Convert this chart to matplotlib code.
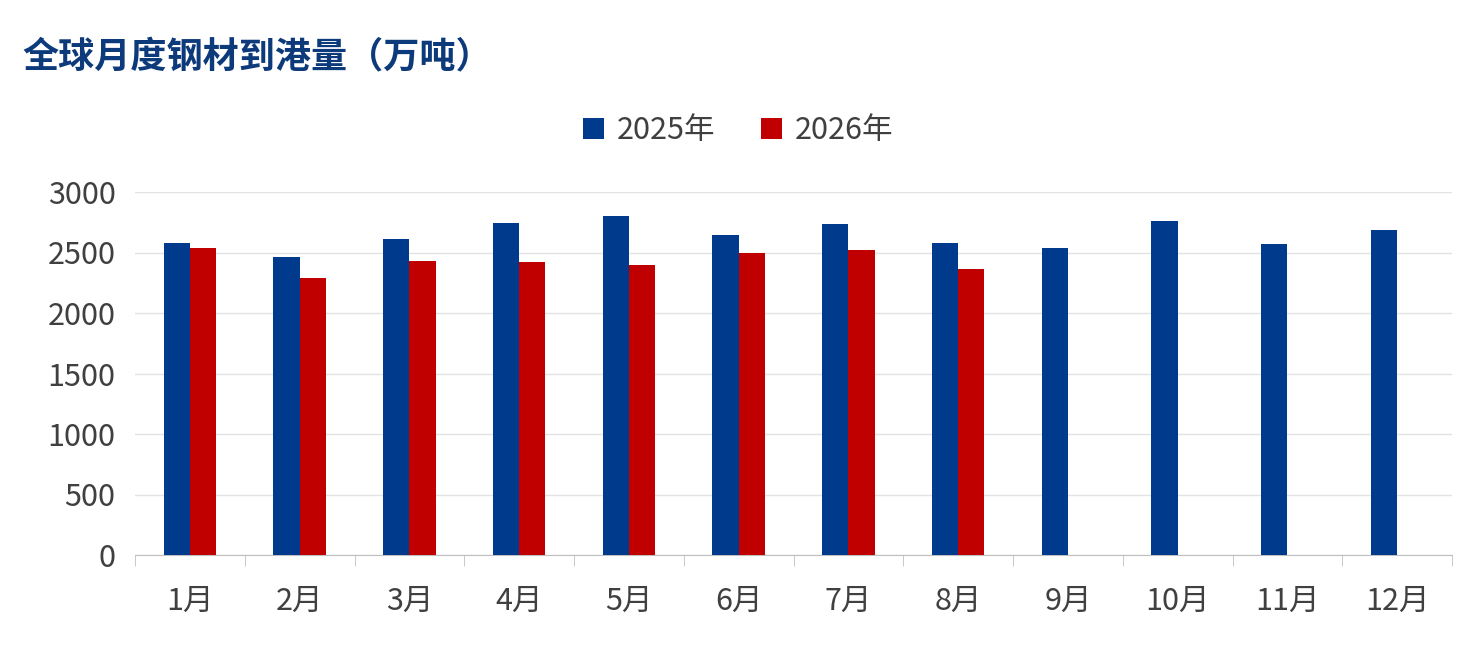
import matplotlib.pyplot as plt
import numpy as np

plt.rcParams['font.family'] = ['Noto Sans CJK SC', 'DejaVu Sans']

months = ['1月', '2月', '3月', '4月', '5月', '6月', '7月', '8月', '9月', '10月', '11月', '12月']
y2025 = [2575, 2460, 2610, 2740, 2800, 2645, 2735, 2578, 2535, 2760, 2570, 2685]
y2026 = [2535, 2290, 2430, 2420, 2395, 2495, 2520, 2365]

fig = plt.figure(figsize=(14.76, 6.5), dpi=100)
ax = fig.add_axes([135 / 1476, 1 - 555 / 650, (1452 - 135) / 1476, 363 / 650])

x = np.arange(len(months))
w = 0.24
ax.bar(x - w / 2, y2025, w, color='#003A8C', label='2025年', zorder=3)
ax.bar(np.arange(len(y2026)) + w / 2, y2026, w, color='#C00000', label='2026年', zorder=3)

ax.set_ylim(0, 3000)
ax.set_yticks(range(0, 3001, 500))
ax.set_xlim(-0.5, len(months) - 0.5)
ax.set_xticks(x)
ax.set_xticklabels(months)
ax.set_xticks(np.arange(-0.5, len(months)), minor=True)
ax.tick_params(axis='x', which='major', length=0, pad=22, labelsize=22, colors='#404040')
ax.tick_params(axis='x', which='minor', length=8, color='#bfbfbf', direction='out')
ax.tick_params(axis='y', length=0, labelsize=22, colors='#404040', pad=14)
ax.grid(axis='y', color='#e3e3e3', linewidth=1, zorder=0)
for s in ['top', 'right', 'left']:
    ax.spines[s].set_visible(False)
ax.spines['bottom'].set_color('#bfbfbf')

fig.text(22 / 1476, 1 - 58 / 650, '全球月度钢材到港量（万吨）', fontsize=26, fontweight='bold',
         color='#0D3A7A', va='center')
fig.legend(loc='center', bbox_to_anchor=(0.5, 1 - 131 / 650), ncol=2, frameon=False,
           fontsize=22, handlelength=0.7, handleheight=0.7, handletextpad=0.4,
           columnspacing=1.5, labelcolor='#404040')

fig.savefig('out.png', dpi=100)
